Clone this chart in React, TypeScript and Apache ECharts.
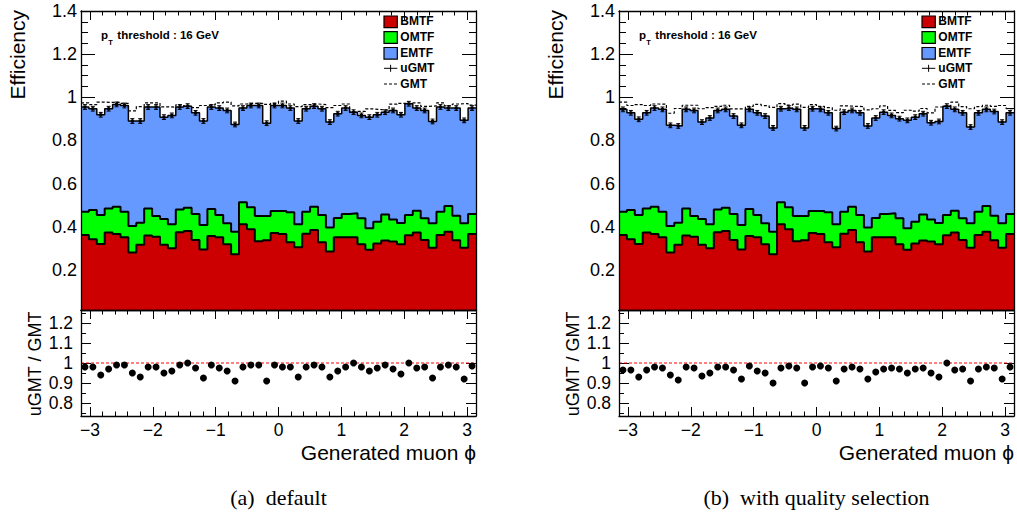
import React, { useEffect, useRef } from "react";
import * as echarts from "echarts";

// ---------------- data ----------------
const PHI_MIN = -Math.PI;
const PHI_MAX = Math.PI;
const N_BINS = 50;
const BIN_W = (PHI_MAX - PHI_MIN) / N_BINS;

const BMTF = [
  0.362, 0.342, 0.320, 0.373, 0.366, 0.351, 0.280, 0.316, 0.359, 0.353,
  0.316, 0.300, 0.374, 0.380, 0.339, 0.294, 0.357, 0.351, 0.319, 0.273,
  0.411, 0.388, 0.333, 0.337, 0.371, 0.366, 0.328, 0.305, 0.368, 0.385,
  0.328, 0.285, 0.351, 0.351, 0.351, 0.319, 0.293, 0.322, 0.336, 0.331,
  0.319, 0.360, 0.373, 0.339, 0.303, 0.362, 0.377, 0.337, 0.303, 0.366,
];
const OMTF = [
  0.108, 0.135, 0.134, 0.112, 0.127, 0.119, 0.123, 0.103, 0.126, 0.097,
  0.120, 0.111, 0.106, 0.108, 0.120, 0.114, 0.125, 0.103, 0.097, 0.104,
  0.102, 0.102, 0.117, 0.113, 0.102, 0.107, 0.139, 0.106, 0.102, 0.108,
  0.126, 0.112, 0.089, 0.108, 0.111, 0.120, 0.100, 0.101, 0.121, 0.103,
  0.098, 0.094, 0.101, 0.100, 0.113, 0.108, 0.119, 0.114, 0.113, 0.093,
];
const EMTF_DEFAULT = [
  0.485, 0.470, 0.465, 0.462, 0.474, 0.492, 0.487, 0.471, 0.470, 0.505,
  0.472, 0.505, 0.475, 0.471, 0.469, 0.482, 0.473, 0.496, 0.523, 0.497,
  0.437, 0.472, 0.512, 0.430, 0.489, 0.489, 0.483, 0.479, 0.477, 0.466,
  0.493, 0.488, 0.484, 0.491, 0.469, 0.477, 0.515, 0.496, 0.474, 0.505,
  0.502, 0.516, 0.476, 0.500, 0.472, 0.485, 0.454, 0.499, 0.477, 0.491,
];
const EMTF_QUALITY = [
  0.474, 0.451, 0.444, 0.443, 0.457, 0.474, 0.467, 0.448, 0.459, 0.489,
  0.449, 0.493, 0.459, 0.456, 0.454, 0.462, 0.462, 0.474, 0.497, 0.481,
  0.434, 0.460, 0.494, 0.408, 0.474, 0.471, 0.461, 0.444, 0.461, 0.446,
  0.474, 0.470, 0.464, 0.472, 0.454, 0.462, 0.500, 0.485, 0.467, 0.448,
  0.471, 0.505, 0.470, 0.489, 0.446, 0.458, 0.448, 0.483, 0.469, 0.469,
];
const UGMT_DEFAULT = [
  0.955, 0.947, 0.919, 0.947, 0.967, 0.962, 0.890, 0.890, 0.955, 0.955,
  0.908, 0.916, 0.955, 0.959, 0.928, 0.890, 0.955, 0.950, 0.939, 0.874,
  0.950, 0.962, 0.962, 0.880, 0.962, 0.962, 0.950, 0.890, 0.947, 0.959,
  0.947, 0.885, 0.924, 0.950, 0.931, 0.916, 0.908, 0.919, 0.931, 0.939,
  0.919, 0.970, 0.950, 0.939, 0.888, 0.955, 0.950, 0.950, 0.893, 0.950,
];
const UGMT_QUALITY = [
  0.944, 0.928, 0.898, 0.928, 0.950, 0.944, 0.870, 0.867, 0.944, 0.939,
  0.885, 0.904, 0.939, 0.944, 0.913, 0.870, 0.944, 0.928, 0.913, 0.858,
  0.947, 0.950, 0.944, 0.858, 0.947, 0.944, 0.928, 0.855, 0.931, 0.939,
  0.928, 0.867, 0.904, 0.931, 0.916, 0.901, 0.893, 0.908, 0.924, 0.882,
  0.888, 0.959, 0.944, 0.928, 0.862, 0.928, 0.944, 0.934, 0.885, 0.928,
];
const GMT_DEFAULT = [
  0.974, 0.966, 0.978, 0.976, 0.977, 0.972, 0.937, 0.957, 0.974, 0.974,
  0.956, 0.954, 0.965, 0.959, 0.952, 0.962, 0.965, 0.974, 0.978, 0.960,
  0.969, 0.972, 0.972, 0.967, 0.972, 0.982, 0.969, 0.957, 0.966, 0.969,
  0.966, 0.952, 0.962, 0.969, 0.931, 0.935, 0.946, 0.943, 0.940, 0.968,
  0.972, 0.970, 0.974, 0.958, 0.960, 0.974, 0.960, 0.969, 0.971, 0.964,
];
const GMT_QUALITY = [
  0.978, 0.962, 0.966, 0.962, 0.969, 0.968, 0.926, 0.948, 0.963, 0.963,
  0.947, 0.952, 0.958, 0.963, 0.946, 0.946, 0.958, 0.967, 0.961, 0.953,
  0.971, 0.964, 0.968, 0.953, 0.966, 0.958, 0.952, 0.940, 0.960, 0.958,
  0.957, 0.942, 0.947, 0.960, 0.939, 0.929, 0.940, 0.936, 0.948, 0.928,
  0.955, 0.959, 0.978, 0.957, 0.947, 0.957, 0.963, 0.958, 0.962, 0.947,
];
const RATIO_DEFAULT = [
  0.980, 0.980, 0.940, 0.970, 0.990, 0.990, 0.950, 0.930, 0.980, 0.980,
  0.950, 0.960, 0.990, 1.000, 0.975, 0.925, 0.990, 0.975, 0.960, 0.910,
  0.980, 0.990, 0.990, 0.910, 0.990, 0.980, 0.980, 0.930, 0.980, 0.990,
  0.980, 0.930, 0.960, 0.980, 1.000, 0.980, 0.960, 0.975, 0.990, 0.970,
  0.945, 1.000, 0.975, 0.980, 0.925, 0.980, 0.990, 0.980, 0.920, 0.985,
];
const RATIO_QUALITY = [
  0.965, 0.965, 0.930, 0.965, 0.980, 0.975, 0.940, 0.915, 0.980, 0.975,
  0.935, 0.950, 0.980, 0.980, 0.965, 0.920, 0.985, 0.960, 0.950, 0.900,
  0.975, 0.985, 0.975, 0.900, 0.980, 0.985, 0.975, 0.910, 0.970, 0.980,
  0.970, 0.920, 0.955, 0.970, 0.975, 0.970, 0.950, 0.970, 0.975, 0.950,
  0.930, 1.000, 0.965, 0.970, 0.910, 0.970, 0.980, 0.975, 0.920, 0.980,
];
const UGMT_ERR = 0.011;

// ticks / labels
const X_MAJOR = [-3, -2, -1, 0, 1, 2, 3];
const EFF_MAJOR = [0.2, 0.4, 0.6, 0.8, 1, 1.2, 1.4];
const RATIO_MAJOR = [0.8, 0.9, 1, 1.1, 1.2];
const RATIO_MINOR = [0.75, 0.85, 0.95, 1.05, 1.15, 1.25];
const LEGEND_NAMES = ["BMTF", "OMTF", "EMTF", "uGMT", "GMT"];
const CAPTIONS = ["(a)  default", "(b)  with quality selection"];
const Y_TITLE_TOP = "Efficiency";
const Y_TITLE_RATIO = "uGMT / GMT";
const X_TITLE = "Generated muon \u03d5";

const tickRange = (from: number, to: number, step: number) =>
  Array.from({ length: Math.round((to - from) / step) + 1 }, (_, i) => +(from + i * step).toFixed(3));
const X_MINOR = tickRange(-3, 3, 0.2);
const EFF_MINOR = tickRange(0.05, 1.35, 0.05);

// ---------------- layout / style ----------------
const COLORS = { BMTF: "#cc0000", OMTF: "#00ff00", EMTF: "#6699ff" };
const FONT = "'Liberation Sans', Arial, Helvetica, sans-serif";
const SERIF = "'Liberation Serif', 'DejaVu Serif', serif";
const PANEL_LEFT = [81, 619];
const PLOT_W = 395;
const TOP_Y = 11;
const TOP_H = 299;
const RATIO_Y = 310;
const RATIO_H = 106;
const EFF_MIN = 0.014;
const EFF_MAX = 1.4;
const RATIO_MIN = 0.735;
const RATIO_MAX = 1.265;

const PANELS = [
  { emtf: EMTF_DEFAULT, ugmt: UGMT_DEFAULT, gmt: GMT_DEFAULT, ratio: RATIO_DEFAULT, caption: CAPTIONS[0] },
  { emtf: EMTF_QUALITY, ugmt: UGMT_QUALITY, gmt: GMT_QUALITY, ratio: RATIO_QUALITY, caption: CAPTIONS[1] },
];

const fmtNum = (v: number) => String(Math.round(v * 100) / 100);
const fmtX = (v: number) => {
  const r = Math.round(v);
  return r < 0 ? "\u2212" + -r : String(r);
};

const binLow = (i: number) => PHI_MIN + i * BIN_W;
const binCenter = (i: number) => PHI_MIN + (i + 0.5) * BIN_W;
const stepData = (vals: number[]) =>
  vals.map((v, i) => [binLow(i), v]).concat([[PHI_MAX, vals[vals.length - 1]]]);

function buildOption() {
  const grid: any[] = [];
  const xAxis: any[] = [];
  const yAxis: any[] = [];
  const series: any[] = [];
  const graphic: any[] = [];

  const base = (gridIndex: number, min: number, max: number, position: string) => ({
    type: "value",
    gridIndex,
    min,
    max,
    position,
    splitLine: { show: false },
    axisLine: { show: false, onZero: false },
    axisTick: { show: false },
    axisLabel: { show: false },
    axisPointer: { show: false },
    silent: true,
  });

  function addSide(
    list: any[], gridIndex: number, position: string, min: number, max: number,
    majors: number[] | null, minors: number[] | null, majLen: number, minLen: number, label?: any
  ) {
    const idx = list.length;
    list.push({
      ...base(gridIndex, min, max, position),
      z: 10,
      axisLine: { show: true, onZero: false, lineStyle: { color: "#000", width: 1.3 } },
    });
    if (majors) {
      list.push({
        ...base(gridIndex, min, max, position),
        z: 1,
        axisTick: { show: true, inside: true, length: majLen, customValues: majors, lineStyle: { color: "#000", width: 1 } },
        axisLabel: label ? { show: true, customValues: majors, color: "#000", fontFamily: FONT, ...label } : { show: false },
      });
    }
    if (minors) {
      list.push({
        ...base(gridIndex, min, max, position),
        z: 1,
        axisTick: { show: true, inside: true, length: minLen, customValues: minors, lineStyle: { color: "#000", width: 1 } },
      });
    }
    return idx;
  }

  const txt = (x: number, y: number, text: string, o: any = {}) => ({
    type: "text",
    x,
    y,
    rotation: o.rot ?? 0,
    silent: true,
    z: 100,
    style: {
      text,
      fill: "#000",
      fontFamily: o.family ?? FONT,
      fontSize: o.size ?? 12,
      fontWeight: o.weight ?? "normal",
      align: o.align ?? "left",
      verticalAlign: o.va ?? "middle",
    },
  });

  PANELS.forEach((p, pi) => {
    const left = PANEL_LEFT[pi];
    const dx = left - PANEL_LEFT[0];

    const gTop = grid.length;
    grid.push({ left, top: TOP_Y, width: PLOT_W, height: TOP_H, outerBoundsMode: "none" });
    const gRat = grid.length;
    grid.push({ left, top: RATIO_Y, width: PLOT_W, height: RATIO_H, outerBoundsMode: "none" });

    // top panel axes
    const xTop = addSide(xAxis, gTop, "bottom", PHI_MIN, PHI_MAX, null, null, 0, 0);
    addSide(xAxis, gTop, "top", PHI_MIN, PHI_MAX, X_MAJOR, X_MINOR, 9, 4.5);
    const yTop = addSide(yAxis, gTop, "left", EFF_MIN, EFF_MAX, EFF_MAJOR, EFF_MINOR, 14, 7, {
      fontSize: 18, margin: 4, formatter: fmtNum,
    });
    addSide(yAxis, gTop, "right", EFF_MIN, EFF_MAX, EFF_MAJOR, EFF_MINOR, 14, 7);

    // ratio panel axes
    const xRat = addSide(xAxis, gRat, "bottom", PHI_MIN, PHI_MAX, X_MAJOR, X_MINOR, 9, 4.5, {
      fontSize: 17.5, margin: 5, formatter: fmtX,
    });
    addSide(xAxis, gRat, "top", PHI_MIN, PHI_MAX, X_MAJOR, X_MINOR, 9, 4.5);
    const yRat = addSide(yAxis, gRat, "left", RATIO_MIN, RATIO_MAX, RATIO_MAJOR, RATIO_MINOR, 10, 5, {
      fontSize: 17.5, margin: 8, formatter: fmtNum,
    });
    addSide(yAxis, gRat, "right", RATIO_MIN, RATIO_MAX, RATIO_MAJOR, RATIO_MINOR, 10, 5);

    // stacked histograms (cumulative tops)
    const top1 = BMTF;
    const top2 = BMTF.map((b, i) => b + OMTF[i]);
    const top3 = top2.map((c, i) => c + p.emtf[i]);
    const stackDefs = [
      { name: "EMTF", vals: top3, color: COLORS.EMTF, z: 2, w: 1.5 },
      { name: "OMTF", vals: top2, color: COLORS.OMTF, z: 3, w: 2 },
      { name: "BMTF", vals: top1, color: COLORS.BMTF, z: 4, w: 2 },
    ];
    stackDefs.forEach((s) => {
      series.push({
        name: s.name,
        type: "line",
        xAxisIndex: xTop,
        yAxisIndex: yTop,
        step: "end",
        data: stepData(s.vals),
        symbol: "none",
        showSymbol: false,
        silent: true,
        z: s.z,
        lineStyle: { color: "#000", width: s.w },
        areaStyle: { color: s.color, opacity: 1, origin: "start" },
      });
    });

    // GMT dashed histogram
    series.push({
      name: "GMT",
      type: "line",
      xAxisIndex: xTop,
      yAxisIndex: yTop,
      step: "end",
      data: stepData(p.gmt),
      symbol: "none",
      silent: true,
      z: 5,
      lineStyle: { color: "#000", width: 1.2, type: [3, 2] },
    });

    // uGMT points with error bars
    series.push({
      name: "uGMT",
      type: "custom",
      xAxisIndex: xTop,
      yAxisIndex: yTop,
      silent: true,
      z: 6,
      data: p.ugmt.map((v, i) => [binCenter(i), v]),
      renderItem: (_params: any, api: any) => {
        const x = api.value(0);
        const y = api.value(1);
        const c = api.coord([x, y]);
        const hi = api.coord([x, y + UGMT_ERR]);
        const lo = api.coord([x, y - UGMT_ERR]);
        const st = { stroke: "#000", lineWidth: 1 };
        return {
          type: "group",
          children: [
            { type: "line", shape: { x1: c[0], y1: hi[1], x2: c[0], y2: lo[1] }, style: st },
            { type: "line", shape: { x1: c[0] - 2, y1: hi[1], x2: c[0] + 2, y2: hi[1] }, style: st },
            { type: "line", shape: { x1: c[0] - 2, y1: lo[1], x2: c[0] + 2, y2: lo[1] }, style: st },
            { type: "rect", shape: { x: c[0] - 1.5, y: c[1] - 1.5, width: 3, height: 3 }, style: { fill: "#000" } },
          ],
        };
      },
    });

    // ratio panel
    series.push({
      type: "line",
      xAxisIndex: xRat,
      yAxisIndex: yRat,
      data: [[PHI_MIN, 1], [PHI_MAX, 1]],
      symbol: "none",
      silent: true,
      z: 2,
      lineStyle: { color: "#ff0000", width: 1, type: [3, 2] },
    });
    series.push({
      type: "scatter",
      xAxisIndex: xRat,
      yAxisIndex: yRat,
      data: p.ratio.map((r, i) => [binCenter(i), r]),
      symbol: "circle",
      symbolSize: 7,
      silent: true,
      z: 3,
      itemStyle: { color: "#000", opacity: 1 },
    });

    // titles
    graphic.push(txt(17.5 + dx, 10, Y_TITLE_TOP, { size: 21, align: "right", rot: Math.PI / 2 }));
    graphic.push(txt(34.5 + dx, 311.5, Y_TITLE_RATIO, { size: 18, align: "right", rot: Math.PI / 2 }));
    graphic.push(txt(left + PLOT_W, 452, X_TITLE, { size: 21, align: "right" }));
    graphic.push(txt(left + PLOT_W / 2, 497, p.caption, { size: 22, align: "center", family: SERIF }));

    // pT threshold text
    graphic.push(txt(left + 20, 35.3, "p", { size: 11.5, weight: "bold" }));
    graphic.push(txt(left + 27.2, 42, "T", { size: 7.5, weight: "bold" }));
    graphic.push(txt(left + 36.3, 35.3, "threshold : 16 GeV", { size: 11.5, weight: "bold" }));

    // legend
    const lx = left + 303;
    const tx = left + 319.3;
    const rowY = [21.8, 37.5, 53.3, 68.3, 84];
    const textY = [20.8, 36.7, 52.5, 68, 83.7];
    (["BMTF", "OMTF", "EMTF"] as const).forEach((n, k) => {
      graphic.push({
        type: "rect",
        silent: true,
        z: 100,
        shape: { x: lx, y: rowY[k] - 5.8, width: 13.3, height: 11.6 },
        style: { fill: COLORS[n], stroke: "#000", lineWidth: 1.2 },
      });
    });
    graphic.push({ type: "line", silent: true, z: 100, shape: { x1: lx, y1: rowY[3], x2: lx + 13.3, y2: rowY[3] }, style: { stroke: "#000", lineWidth: 1 } });
    graphic.push({ type: "line", silent: true, z: 100, shape: { x1: lx + 6.6, y1: rowY[3] - 3.5, x2: lx + 6.6, y2: rowY[3] + 3.5 }, style: { stroke: "#000", lineWidth: 1 } });
    graphic.push({ type: "line", silent: true, z: 100, shape: { x1: lx, y1: rowY[4], x2: lx + 13.3, y2: rowY[4] }, style: { stroke: "#000", lineWidth: 1.2, lineDash: [3, 2] } });
    LEGEND_NAMES.forEach((n, k) => {
      graphic.push(txt(tx, textY[k], n, { size: 12, weight: "bold" }));
    });
  });

  return {
    animation: false,
    backgroundColor: "#fff",
    grid,
    xAxis,
    yAxis,
    series,
    graphic: { elements: graphic },
  };
}

export default function App() {
  const ref = useRef<HTMLDivElement>(null);
  useEffect(() => {
    if (!ref.current) return;
    const chart = echarts.init(ref.current, null, { renderer: "svg" });
    chart.setOption(buildOption());
    return () => chart.dispose();
  }, []);
  return (
    <div
      ref={ref}
      style={{ position: "fixed", left: 0, top: 0, width: 1017, height: 518, background: "#fff" }}
    />
  );
}
